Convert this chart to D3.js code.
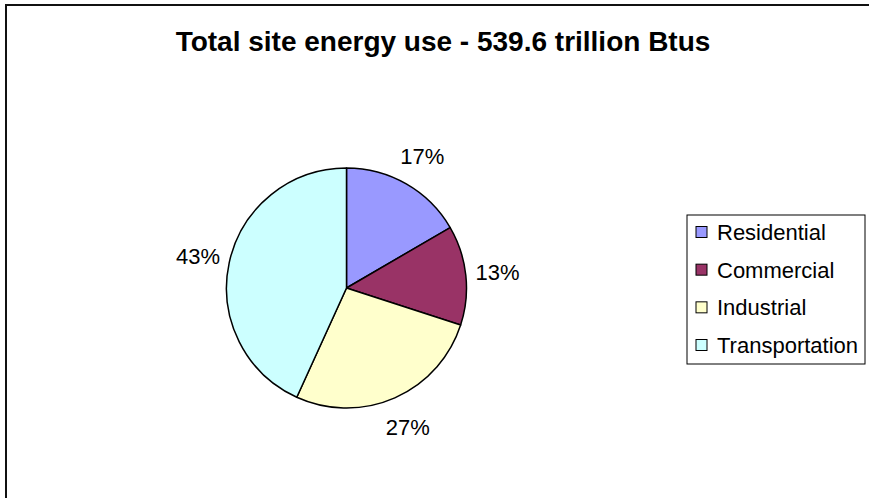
<!DOCTYPE html>
<html>
<head>
<meta charset="utf-8">
<script src="https://cdn.jsdelivr.net/npm/d3@7"></script>
<style>
  body { margin: 0; background: #fff; }
  text { font-family: "Liberation Sans", Arial, sans-serif; }
</style>
</head>
<body>
<script>
const sectors = ["Residential", "Commercial", "Industrial", "Transportation"];
const shares = [16.6, 13.4, 26.8, 43.2];
const colors = ["#9999FF", "#993366", "#FFFFCC", "#CCFFFF"];
const title = "Total site energy use - 539.6 trillion Btus";

const w = 869, h = 498;
const cx = 346.5, cy = 288, R = 120;

const svg = d3.select("body").append("svg").attr("width", w).attr("height", h);

// chart frame (runs off the right/bottom edge like the original)
svg.append("rect")
  .attr("x", 6).attr("y", 5)
  .attr("width", 900).attr("height", 520)
  .attr("fill", "#fff").attr("stroke", "#111").attr("stroke-width", 2);

svg.append("text")
  .attr("x", 443).attr("y", 51)
  .attr("text-anchor", "middle")
  .attr("font-weight", "bold")
  .attr("font-size", "28px")
  .text(title);

const color = d3.scaleOrdinal().domain(sectors).range(colors);
const pie = d3.pie().sort(null).value((d, i) => shares[i]);
const arcs = pie(sectors);
const arc = d3.arc().innerRadius(0).outerRadius(R);
const labelArc = d3.arc().innerRadius(152).outerRadius(152);

const g = svg.append("g").attr("transform", "translate(" + cx + "," + cy + ")");

g.selectAll("path")
  .data(arcs)
  .enter().append("path")
  .attr("d", arc)
  .attr("fill", (d) => color(d.data))
  .attr("stroke", "#000")
  .attr("stroke-width", 1.5)
  .attr("stroke-linejoin", "round");

g.selectAll("text")
  .data(arcs)
  .enter().append("text")
  .attr("transform", (d) => "translate(" + labelArc.centroid(d) + ")")
  .attr("text-anchor", "middle")
  .attr("dy", "0.36em")
  .attr("font-size", "22px")
  .text((d, i) => Math.round(shares[i]) + "%");

// legend
const legend = svg.append("g");
legend.append("rect")
  .attr("x", 687).attr("y", 215)
  .attr("width", 178).attr("height", 149)
  .attr("fill", "#fff").attr("stroke", "#000").attr("stroke-width", 1);

const rowY = d3.scalePoint().domain(sectors).range([232, 345]);

const rows = legend.selectAll("g.row")
  .data(sectors)
  .enter().append("g").attr("class", "row")
  .attr("transform", (d) => "translate(696," + rowY(d) + ")");

rows.append("rect")
  .attr("x", 0).attr("y", -5.5)
  .attr("width", 11).attr("height", 11)
  .attr("fill", (d) => color(d))
  .attr("stroke", "#000").attr("stroke-width", 1);

rows.append("text")
  .attr("x", 21).attr("dy", "0.36em")
  .attr("font-size", "22px")
  .text((d) => d);
</script>
</body>
</html>
